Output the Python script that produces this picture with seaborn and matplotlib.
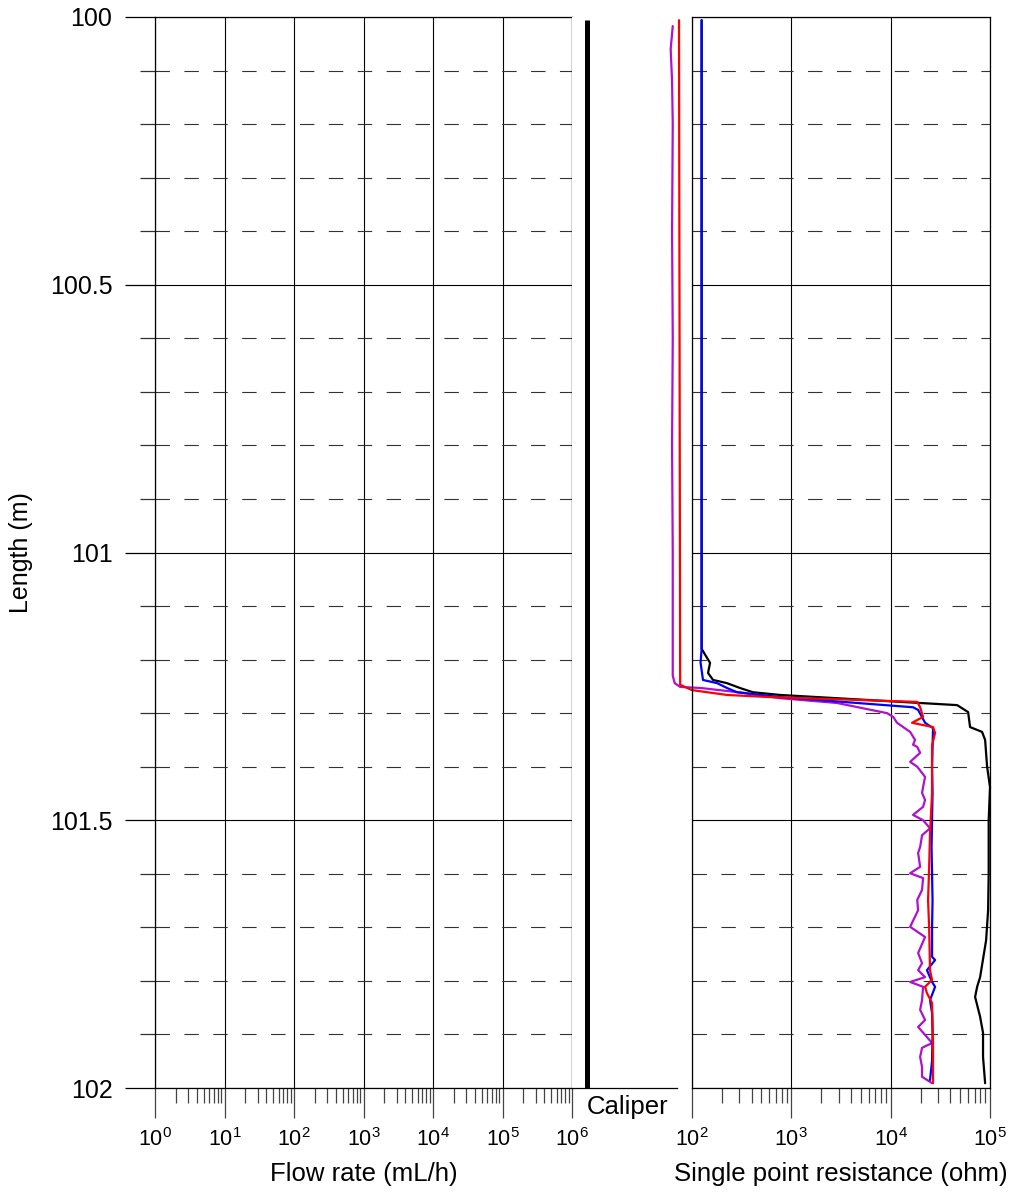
import numpy as np
import pandas as pd
import matplotlib
matplotlib.use("Agg")
import matplotlib.pyplot as plt
import matplotlib.ticker as mticker
import seaborn as sns

# ---------------- data ----------------
black_depth = [100.006, 101.18, 101.197, 101.206, 101.225, 101.238, 101.244, 101.253, 101.261,
               101.266, 101.285, 101.298, 101.326, 101.335, 101.350, 101.400, 101.438, 101.50,
               101.60, 101.668, 101.724, 101.793, 101.811, 101.830, 101.867, 101.897, 101.942, 101.991]
black_res = [125, 125, 142, 152, 145, 163, 225, 304, 411,
             769, 46700, 60200, 63000, 83200, 89300, 93500, 100000, 97000,
             97000, 95700, 91400, 79500, 74200, 70800, 79500, 85100, 85100, 89300]

blue_depth = [100.006, 101.18, 101.206, 101.238, 101.244, 101.253, 101.261, 101.270, 101.289,
              101.294, 101.318, 101.328, 101.40, 101.45, 101.50, 101.55, 101.60, 101.65, 101.70,
              101.755, 101.761, 101.780, 101.802, 101.811, 101.836, 101.86, 101.90, 101.95, 101.985]
blue_res = [125, 125, 122, 129, 179, 225, 284, 769, 16800,
            18900, 22200, 26700, 26100, 26400, 26100, 25800, 26100, 26400, 26100,
            26100, 28000, 23200, 26100, 28000, 24900, 26100, 26400, 26100, 24900]

red_depth = [100.006, 101.247, 101.257, 101.266, 101.270, 101.279, 101.289, 101.307, 101.318,
             101.326, 101.337, 101.36, 101.45, 101.524, 101.587, 101.649, 101.70, 101.78,
             101.798, 101.811, 101.823, 101.841, 101.910, 101.991]
red_res = [74, 76, 100, 225, 610, 18500, 19800, 21200, 16400,
           26700, 28000, 26100, 26100, 24900, 24400, 23800, 24400, 24900,
           26100, 22200, 23200, 26100, 26700, 26700]

purple_depth = [100.017, 100.06, 100.12, 100.20, 100.40, 100.60, 100.80, 101.00, 101.23,
                101.244, 101.251, 101.253, 101.262, 101.272, 101.281, 101.300, 101.307, 101.318,
                101.331, 101.335, 101.350, 101.359, 101.363, 101.374, 101.391, 101.400, 101.419,
                101.438, 101.449, 101.462, 101.475, 101.490, 101.500, 101.515, 101.528, 101.550,
                101.561, 101.587, 101.599, 101.608, 101.630, 101.649, 101.668, 101.699, 101.718,
                101.748, 101.767, 101.780, 101.793, 101.802, 101.811, 101.836, 101.854, 101.873,
                101.886, 101.905, 101.916, 101.925, 101.942, 101.961, 101.979, 101.991]
purple_res = [64, 61, 63, 64, 63, 64, 63, 64, 64,
              67, 76, 122, 326, 769, 2880, 9200, 10600, 11600,
              14600, 15700, 17600, 16800, 18500, 19800, 15700, 18500, 22200,
              21200, 20700, 22200, 21200, 16800, 21200, 24900, 20700, 19800,
              18900, 19800, 15700, 21200, 20700, 18500, 18900, 15700, 22200,
              18900, 20700, 18900, 22200, 15700, 21200, 20700, 19800, 22200,
              18900, 23200, 26100, 20700, 19800, 20700, 20700, 26100]

caliper_depth = [100.005, 102.0]
caliper_value = [1.0, 1.0]

depth_major = [100, 100.5, 101, 101.5, 102]
depth_labels = ["100", "100.5", "101", "101.5", "102"]

# ---------------- style ----------------
sns.set_theme(style="white")
plt.rcParams['font.family'] = ['Liberation Sans', 'DejaVu Sans']
plt.rcParams['mathtext.fontset'] = 'custom'
plt.rcParams['mathtext.rm'] = 'Liberation Sans'
plt.rcParams['mathtext.it'] = 'Liberation Sans'
plt.rcParams['mathtext.bf'] = 'Liberation Sans'
plt.rcParams['text.color'] = 'black'
plt.rcParams['axes.labelcolor'] = 'black'
plt.rcParams['xtick.color'] = 'black'
plt.rcParams['ytick.color'] = 'black'
plt.rcParams['xtick.labelcolor'] = 'black'
plt.rcParams['ytick.labelcolor'] = 'black'

W, H = 1017, 1193
fig = plt.figure(figsize=(W / 100, H / 100), dpi=100)
bot = (H - 1088) / H
hgt = (1088 - 17) / H
ax1 = fig.add_axes([155 / W, bot, (572 - 155) / W, hgt])
ax2 = fig.add_axes([572 / W, bot, (677 - 572) / W, hgt])
ax3 = fig.add_axes([692 / W, bot, (990 - 692) / W, hgt])

MAJ = 21.6  # 30 px
MIN = 10.8  # 15 px
tick_col = '#444444'

for ax in (ax1, ax2, ax3):
    ax.set_facecolor('white')
    ax.set_ylim(102, 100)
    for s in ax.spines.values():
        s.set_color('black')
        s.set_linewidth(0.9)

def style_log(ax, lo, hi):
    ax.set_xscale('log')
    ax.set_xlim(lo, hi)
    ax.xaxis.set_major_locator(mticker.LogLocator(base=10, numticks=20))
    ax.xaxis.set_minor_locator(mticker.LogLocator(base=10, subs=np.arange(2, 10), numticks=20))
    ax.xaxis.set_minor_formatter(mticker.NullFormatter())
    ax.yaxis.set_major_locator(mticker.FixedLocator(depth_major))
    ax.yaxis.set_minor_locator(mticker.MultipleLocator(0.1))
    ax.grid(which='major', axis='both', color='black', linewidth=0.8)
    ax.grid(which='minor', axis='y', color='#333333', linewidth=0.8, linestyle=(0, (13, 13)))
    ax.tick_params(axis='x', which='major', direction='out', length=MAJ, width=0.9,
                   color=tick_col, bottom=True, labelsize=15.5, pad=7, labelcolor='black')
    ax.tick_params(axis='x', which='minor', direction='out', length=MIN, width=0.9,
                   color=tick_col, bottom=True)

# left panel: flow rate (no data)
style_log(ax1, 1, 1e6)
ax1.set_yticks(depth_major)
ax1.set_yticklabels(depth_labels)
ax1.tick_params(axis='y', which='major', direction='out', length=MAJ, width=0.9,
                color='black', left=True, labelsize=18, pad=9, labelcolor='black')
ax1.tick_params(axis='y', which='minor', direction='out', length=MIN, width=0.9,
                color='#333333', left=True)
ax1.set_xlabel("Flow rate (mL/h)", fontsize=18.5, labelpad=8, color='black')
ax1.set_ylabel("Length (m)", fontsize=18, labelpad=12, color='black')

# middle panel: caliper
sns.lineplot(x=caliper_value, y=caliper_depth, ax=ax2, color='black', linewidth=3.6,
             sort=False, estimator=None, solid_capstyle='butt')
ax2.set_xlim(0, 7)
ax2.set_ylim(102, 100)
for s in ('top', 'right', 'left'):
    ax2.spines[s].set_visible(False)
ax2.set_xticks([])
ax2.set_yticks([])
ax2.set_xlabel("Caliper", fontsize=18.5, labelpad=4, color='black')
ax2.xaxis.set_label_coords(0.53, -0.007, transform=ax2.transAxes)
ax2.xaxis.label.set_verticalalignment('top')
ax2.set_ylabel("")

# right panel: single point resistance
style_log(ax3, 1e2, 1e5)
series = [(black_depth, black_res, 'black'),
          (purple_depth, purple_res, '#b010d0'),
          (blue_depth, blue_res, '#0000ff'),
          (red_depth, red_res, '#ff0000')]
for d, r, c in series:
    sns.lineplot(x=r, y=d, ax=ax3, color=c, linewidth=1.6, sort=False,
                 estimator=None, clip_on=False)
ax3.set_xlim(1e2, 1e5)
ax3.set_ylim(102, 100)
ax3.tick_params(axis='y', which='both', left=False, labelleft=False)
ax3.set_xlabel("Single point resistance (ohm)", fontsize=18.5, labelpad=8, color='black')
ax3.set_ylabel("")

fig.savefig("out.png", dpi=100, facecolor='white')
